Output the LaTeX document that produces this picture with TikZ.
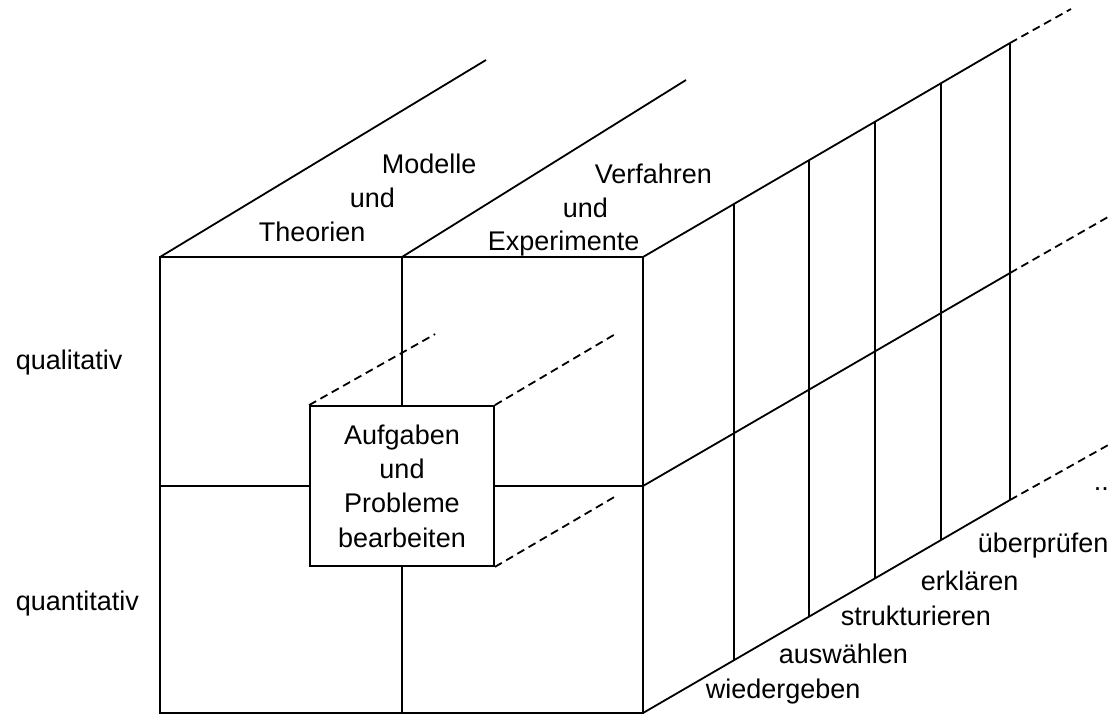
\documentclass[tikz,border=0pt]{standalone}
\usepackage{fontspec}
\setmainfont{Liberation Sans}
\usepackage{tikz}

\begin{document}
\begin{tikzpicture}[x=1pt, y=-1pt, line width=1.8pt,
    lbl/.style={inner sep=0pt, anchor=base west, font=\fontsize{27}{34}\selectfont},
    dashline/.style={dash pattern=on 8pt off 5pt}]
    \useasboundingbox (0,0) rectangle (1110,715);

    % Front face with its four cells
    \draw (160,257) rectangle (643,713);
    \draw (402,257) -- (402,713);
    \draw (160,486) -- (643,486);

    % Top face (open towards the back)
    \draw (160,257) -- (486,60);
    \draw (402,257) -- (686,80);
    \draw (643,257) -- (1010,43);

    % Right face with the columns
    \draw (643,486) -- (1010,273);
    \draw (643,713) -- (1010,500);
    \foreach \x/\yt/\yb in {734/204/660, 809/160/617, 875/122/578, 941/83/540, 1010/43/500}
        \draw (\x,\yt) -- (\x,\yb);

    % Right face continues
    \draw[dashline] (1010,43) -- (1071,9);
    \draw[dashline] (1010,273) -- (1108,217);
    \draw[dashline] (1010,500) -- (1110,444);
    \node[lbl] (more) at (1093,490) {..};

    % Inner cube
    \node[draw, fill=white, minimum width=184pt, minimum height=160pt, inner sep=0pt,
          align=center, font=\fontsize{27}{34.3}\selectfont] (task) at (402,486)
          {Aufgaben\\und\\Probleme\\bearbeiten};
    \draw[dashline] (task.north west) -- ++(126,-71);
    \draw[dashline] (task.north east) -- ++(122,-72);
    \draw[dashline] (task.south east) -- ++(123,-72);

    % Rows
    \node[lbl] (qual) at (15,369) {qualitativ};
    \node[lbl] (quant) at (15,610) {quantitativ};

    % Top labels
    \node[lbl] (modelle) at (381,173) {Modelle};
    \node[lbl] (und1) at (349,207) {und};
    \node[lbl] (theorien) at (258,241) {Theorien};
    \node[lbl] (verfahren) at (594,183) {Verfahren};
    \node[lbl] (und2) at (562,217) {und};
    \node[lbl] (experimente) at (487,250) {Experimente};

    % Steps along the bottom edge
    \node[lbl] (wiedergeben) at (705,698) {wiedergeben};
    \node[lbl] (auswaehlen) at (778,663) {auswählen};
    \node[lbl] (strukturieren) at (840,625) {strukturieren};
    \node[lbl] (erklaeren) at (920,590) {erklären};
    \node[lbl] (ueberpruefen) at (977,552) {überprüfen};
\end{tikzpicture}
\end{document}
